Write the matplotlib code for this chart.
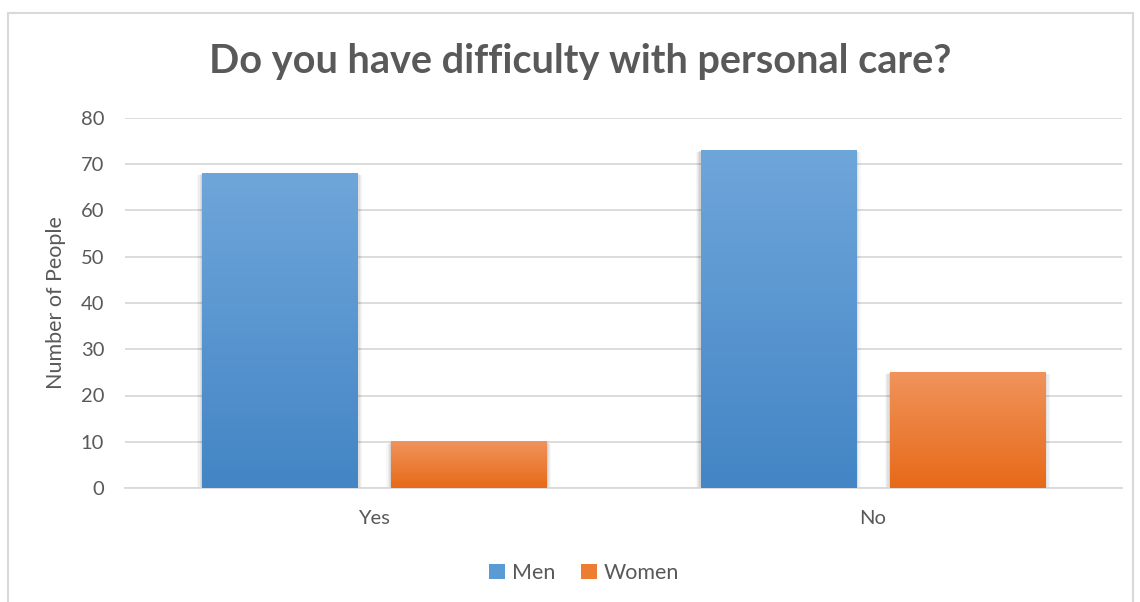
import matplotlib
matplotlib.use("Agg")
import matplotlib.pyplot as plt
import numpy as np
from matplotlib.patches import Rectangle
from matplotlib.colors import LinearSegmentedColormap

categories = ["Yes", "No"]
men = [68, 73]
women = [10, 25]
series_names = ["Men", "Women"]
title = "Do you have difficulty with personal care?"
ylabel = "Number of People"
yticks = [0, 10, 20, 30, 40, 50, 60, 70, 80]

plt.rcParams['font.family'] = ['Lato', 'DejaVu Sans']
text_color = '#595959'

fig = plt.figure(figsize=(11.4, 6.02), dpi=100)
W, H = 1140, 602
ax = fig.add_axes([125 / W, 1 - 488 / H, (1122 - 125) / W, (488 - 118) / H])

# outer frame
fig.patches.append(Rectangle((8 / W, -0.01), (1133 - 8) / W, 1 - 13 / H + 0.01,
                             transform=fig.transFigure, fill=False,
                             edgecolor='#d9d9d9', linewidth=1.5))

x = np.arange(len(categories))
bw = 0.311
off = 0.19
cmaps = [LinearSegmentedColormap.from_list('m', ['#4385c5', '#6fa6da']),
         LinearSegmentedColormap.from_list('w', ['#e76a18', '#f0935c'])]
grad = np.linspace(0, 1, 256).reshape(-1, 1)

ax.set_xlim(-0.5, 1.5)
ax.set_ylim(0, 80)
for vals, sign, cm in [(men, -1, cmaps[0]), (women, 1, cmaps[1])]:
    bars = ax.bar(x + sign * off, vals, bw, color='none', zorder=3)
    for b in bars:
        x0, w, h = b.get_x(), b.get_width(), b.get_height()
        # soft side shadow
        for i, a in enumerate([0.03, 0.04, 0.05, 0.06]):
            d = 0.0025 * (4 - i)
            ax.add_patch(Rectangle((x0 - d, -0.4), w + 2 * d, h + 0.4 - 0.1 * (4 - i),
                                   facecolor='black', alpha=a, edgecolor='none', zorder=2))
        ax.imshow(grad, extent=(x0, x0 + w, 0, h), origin='lower', cmap=cm,
                  aspect='auto', zorder=3, interpolation='bilinear')
ax.set_xlim(-0.5, 1.5)
ax.set_ylim(0, 80)

ax.set_yticks(yticks)
ax.set_xticks(x)
ax.set_xticklabels(categories)
ax.yaxis.grid(True, color='#d9d9d9', linewidth=1.3, zorder=0)
ax.set_axisbelow(True)
for s in ['top', 'right', 'left']:
    ax.spines[s].set_visible(False)
ax.spines['bottom'].set_color('#d9d9d9')
ax.spines['bottom'].set_linewidth(1.3)
ax.tick_params(axis='both', length=0, labelsize=14.5, labelcolor=text_color)
ax.tick_params(axis='y', pad=15)
ax.tick_params(axis='x', pad=16)
ax.set_ylabel(ylabel, fontsize=15.5, color=text_color)
ax.yaxis.set_label_coords(66 / W, 1 - 303 / H, transform=fig.transFigure)

fig.text(580 / W, 1 - 62 / H, title, ha='center', va='center', fontsize=28.5,
         fontweight='bold', color=text_color)

handles = [Rectangle((0, 0), 1, 1, facecolor='#5b9bd5'),
           Rectangle((0, 0), 1, 1, facecolor='#ed7d31')]
fig.legend(handles, series_names, loc='center', bbox_to_anchor=(584 / W, 1 - 573 / H),
           ncol=2, frameon=False, fontsize=15.5, labelcolor=text_color,
           handlelength=0.75, handleheight=0.75, handletextpad=0.3, columnspacing=1.2)

fig.savefig('out.png', dpi=100)
